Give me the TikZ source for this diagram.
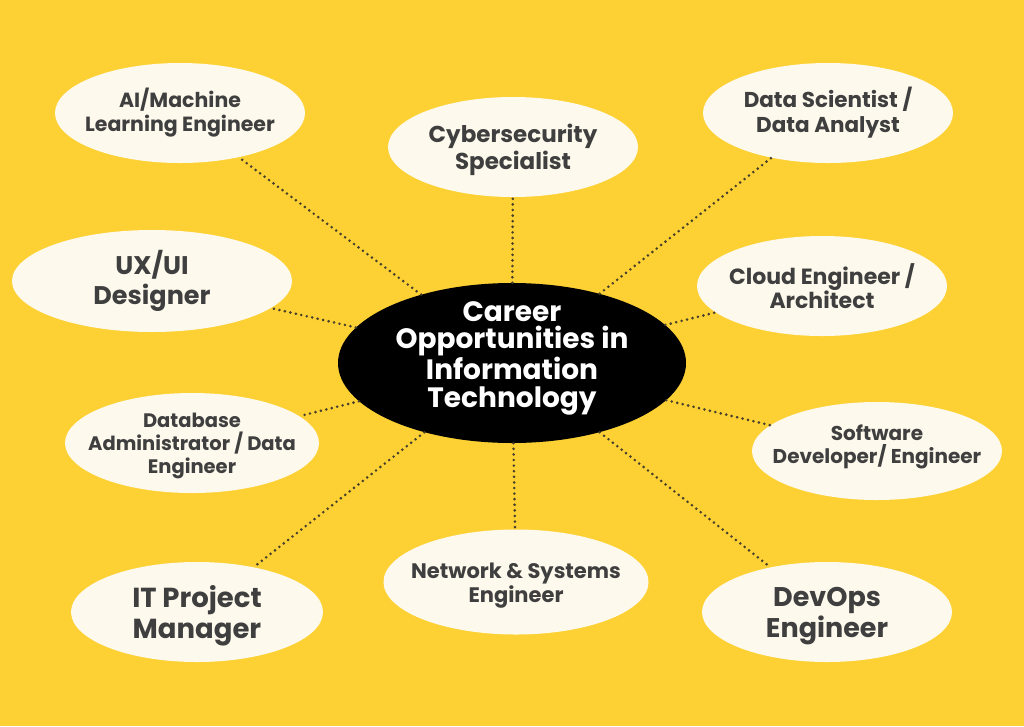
\documentclass[tikz,border=0pt]{standalone}
\usepackage{fontspec}
\setmainfont{Poppins}
\usetikzlibrary{shapes.geometric}

\definecolor{bgyellow}{HTML}{FDD133}
\definecolor{cream}{HTML}{FDF9EC}
\definecolor{inkgrey}{HTML}{3F3F3F}
\definecolor{dotgrey}{HTML}{463F2C}

\begin{document}
\begin{tikzpicture}[x=1pt, y=-1pt,
  job/.style={ellipse, fill=cream, inner sep=0pt, minimum width=250pt, minimum height=100pt},
  jobtext/.style 2 args={text=inkgrey, align=center, font=\fontsize{#1}{#2}\selectfont\bfseries},
  link/.style={dotgrey, line width=2.9pt, line cap=round, dash pattern=on 0pt off 5.6pt}]
  \fill[bgyellow] (0,0) rectangle (1024,726);
  \useasboundingbox (0,0) rectangle (1024,726);

\node[ellipse, fill=black, inner sep=0pt, minimum width=348pt, minimum height=160pt,
  label={[text=white, align=center, yshift=5pt, font=\fontsize{28}{27.5}\selectfont\bfseries]center:Career\\Opportunities in\\Information\\Technology}]
  (hub) at (512,363) {};

\node[job, label={[jobtext={20.5}{24}]center:AI/Machine\\Learning Engineer}] (ai) at (180,113) {};
\node[job, label={[jobtext={23}{26.5}, yshift=-3pt]center:Cybersecurity\\Specialist}] (cyber) at (513,147) {};
\node[job, label={[jobtext={21.5}{25}]center:Data Scientist /\\Data Analyst}] (data) at (828,113) {};
\node[job, minimum width=280pt, minimum height=102pt,
  label={[jobtext={25.5}{30}]center:UX/UI\\Designer}] (ux) at (152,281) {};
\node[job, label={[jobtext={22}{24.5}]center:Cloud Engineer /\\Architect}] (cloud) at (822,286) {};
\node[job, minimum width=254pt, label={[jobtext={19.5}{23}, yshift=-3pt]center:Database\\Administrator / Data\\Engineer}] (db) at (192,443) {};
\node[job, minimum height=98pt, label={[jobtext={20}{23}, yshift=4pt]center:Software\\Developer/ Engineer}] (soft) at (877,451) {};
\node[job, minimum width=265pt, minimum height=105pt,
  label={[jobtext={21}{24}, yshift=-4pt]center:Network \& Systems\\Engineer}] (net) at (516,582) {};
\node[job, minimum width=252pt, label={[jobtext={27.5}{31}, yshift=-4pt]center:IT Project\\Manager}] (itpm) at (197,612) {};
\node[job, label={[jobtext={27}{30.5}, yshift=-4pt]center:DevOps\\Engineer}] (devops) at (827,612) {};

\foreach \job in {ai, cyber, data, ux, cloud, db, soft, net, itpm, devops}
  \draw[link] (hub) -- (\job);
\end{tikzpicture}
\end{document}
